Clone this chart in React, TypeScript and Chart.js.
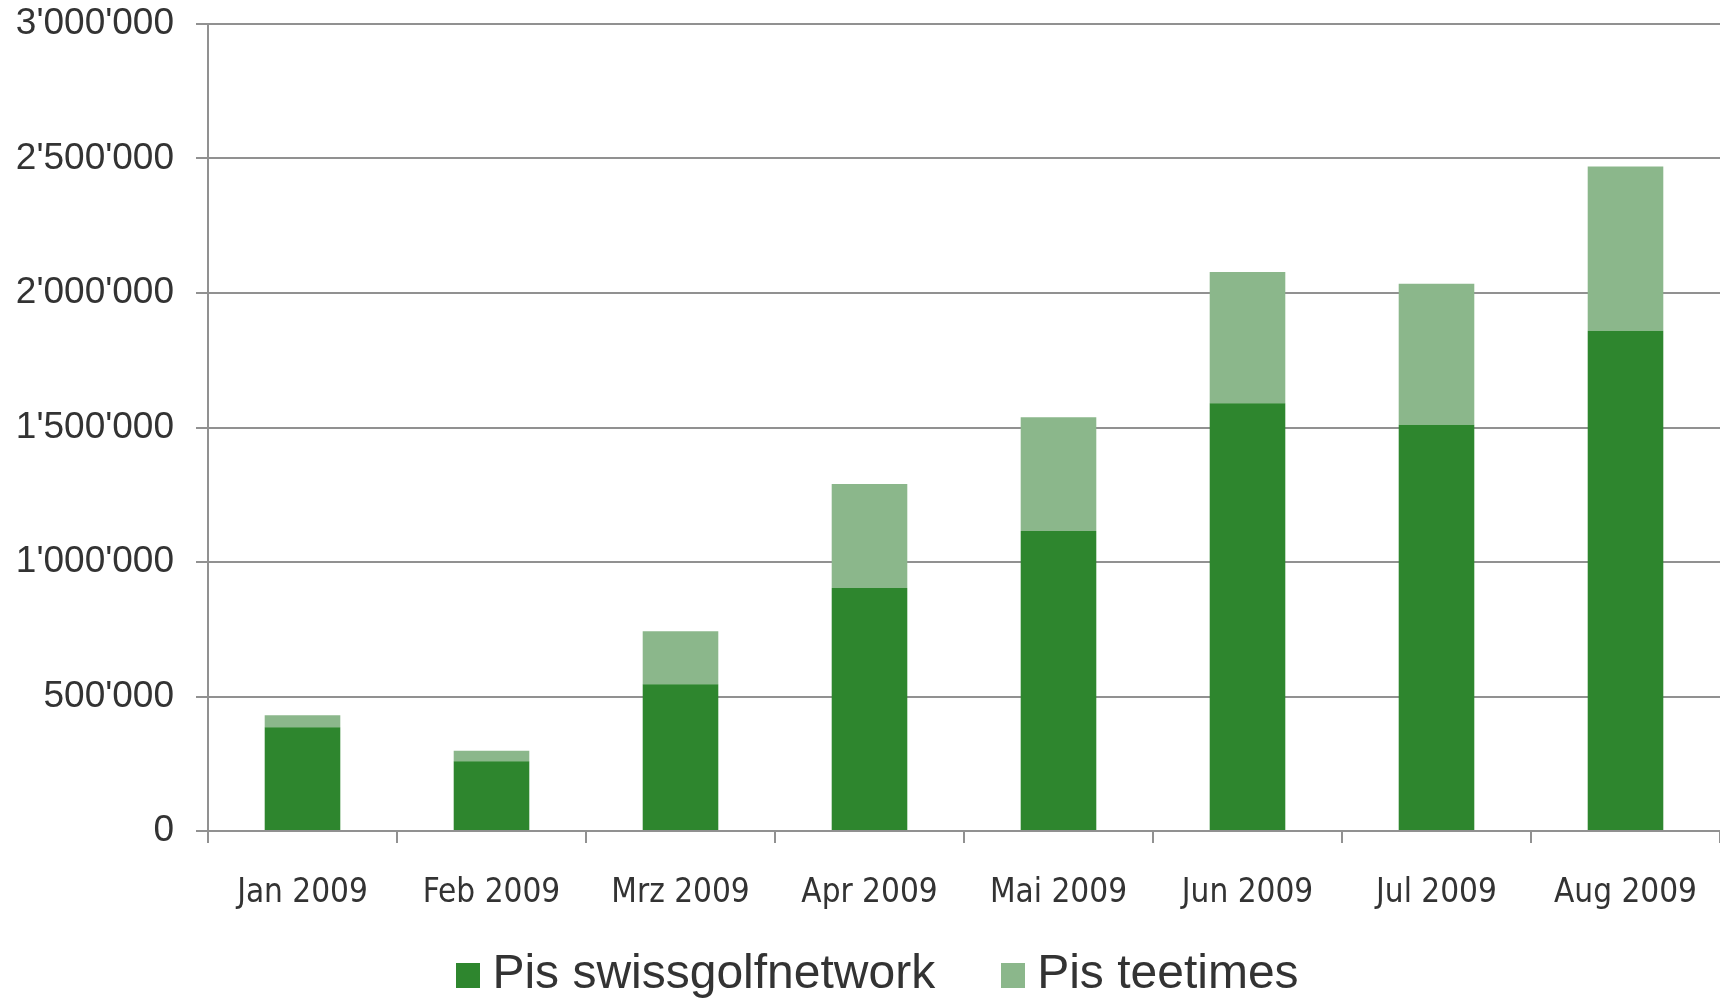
import React, { useEffect, useRef } from "react";
import { Chart, registerables } from "chart.js";

Chart.register(...registerables);

const categories = [
  "Jan 2009",
  "Feb 2009",
  "Mrz 2009",
  "Apr 2009",
  "Mai 2009",
  "Jun 2009",
  "Jul 2009",
  "Aug 2009",
];

const seriesNames = ["Pis swissgolfnetwork", "Pis teetimes"];

const swissgolfnetwork = [386000, 259000, 546000, 903000, 1115000, 1590000, 1510000, 1860000];
const teetimes = [44000, 39000, 197000, 387000, 423000, 488000, 524000, 610000];

const yMin = 0;
const yMax = 3000000;
const yStep = 500000;

const darkGreen = "#2e862e";
const lightGreen = "#8bb78b";
const seriesColors = [darkGreen, lightGreen];
const gridColor = "#919191";
const textColor = "#333333";

const fmt = (v: number) => String(v).replace(/\B(?=(\d{3})+(?!\d))/g, "'");

function hasFont(name: string): boolean {
  const ctx = document.createElement("canvas").getContext("2d");
  if (!ctx) return false;
  const sample = "Jan 2009 mmwwiil";
  ctx.font = "40px monospace";
  const a = ctx.measureText(sample).width;
  ctx.font = `40px '${name}', monospace`;
  const b = ctx.measureText(sample).width;
  return Math.abs(a - b) > 0.5;
}

function pickXFont(): { family: string; size: number } {
  if (hasFont("Liberation Sans Narrow")) return { family: "'Liberation Sans Narrow'", size: 38 };
  if (hasFont("Arial Narrow")) return { family: "'Arial Narrow'", size: 38 };
  if (hasFont("DejaVu Sans Condensed")) return { family: "'DejaVu Sans Condensed'", size: 33 };
  return { family: "'Liberation Sans', Arial, sans-serif", size: 32 };
}

function makeSwatch(color: string): HTMLCanvasElement {
  const c = document.createElement("canvas");
  c.width = 24;
  c.height = 25;
  const ctx = c.getContext("2d");
  if (ctx) {
    ctx.fillStyle = color;
    ctx.fillRect(0, 0, 24, 25);
  }
  return c;
}

// moves the centred legend so that it is centred on the same point as the original
const legendShift = {
  id: "legendShift",
  afterLayout(chart: any) {
    const l = chart.legend;
    if (l) {
      l.left += 46;
    }
  },
};

export default function App() {
  const canvasRef = useRef<HTMLCanvasElement | null>(null);

  useEffect(() => {
    if (!canvasRef.current) return;
    const xFont = pickXFont();
    const xLineHeight = xFont.size * 1.2;
    const swatches = seriesColors.map(makeSwatch);
    const chart = new Chart(canvasRef.current, {
      type: "bar",
      data: {
        labels: categories,
        datasets: [
          {
            label: seriesNames[0],
            data: swissgolfnetwork,
            backgroundColor: darkGreen,
            borderWidth: 0,
            barPercentage: 0.4,
            categoryPercentage: 1.0,
          },
          {
            label: seriesNames[1],
            data: teetimes,
            backgroundColor: lightGreen,
            borderWidth: 0,
            barPercentage: 0.4,
            categoryPercentage: 1.0,
          },
        ],
      },
      plugins: [legendShift],
      options: {
        animation: false,
        responsive: true,
        maintainAspectRatio: false,
        layout: { padding: { top: 24, left: 0, right: 0, bottom: 0 } },
        plugins: {
          tooltip: { enabled: false },
          legend: {
            position: "bottom",
            maxHeight: 129,
            labels: {
              usePointStyle: true,
              pointStyleWidth: 1,
              boxWidth: 24,
              boxHeight: 25,
              padding: 77,
              color: textColor,
              font: { family: "'Liberation Sans', Arial, sans-serif", size: 48 },
              generateLabels: (c: any) => {
                const items = (Chart as any).defaults.plugins.legend.labels.generateLabels(c);
                items.forEach((it: any, i: number) => {
                  it.pointStyle = swatches[i % swatches.length];
                });
                return items;
              },
            },
          },
        },
        scales: {
          x: {
            stacked: true,
            grid: {
              display: true,
              drawOnChartArea: false,
              drawTicks: true,
              tickLength: 12,
              color: gridColor,
              lineWidth: 2,
              offset: true,
            },
            border: { display: true, color: gridColor, width: 2 },
            ticks: {
              color: textColor,
              mirror: true,
              padding: 831 - 889 - xLineHeight / 2 - 4,
              maxRotation: 0,
              autoSkip: false,
              font: { family: xFont.family, size: xFont.size, lineHeight: 1.2 },
            },
            afterFit: (s: any) => {
              s.height = 43;
              s.paddingLeft = 0;
              s.paddingRight = 0;
            },
          },
          y: {
            stacked: true,
            min: yMin,
            max: yMax,
            ticks: {
              stepSize: yStep,
              padding: 22,
              color: textColor,
              font: { family: "'Liberation Sans', Arial, sans-serif", size: 37 },
              callback: (v: any) => fmt(Number(v)),
            },
            grid: { color: gridColor, lineWidth: 2, tickLength: 12 },
            border: { display: true, color: gridColor, width: 2 },
            afterFit: (s: any) => {
              s.width = 208;
              s.paddingTop = 0;
              s.paddingBottom = 0;
            },
          },
        },
      },
    });
    return () => chart.destroy();
  }, []);

  return (
    <div style={{ position: "fixed", left: 0, top: 0, width: 1720, height: 1003, background: "#fff" }}>
      <canvas ref={canvasRef} />
    </div>
  );
}
